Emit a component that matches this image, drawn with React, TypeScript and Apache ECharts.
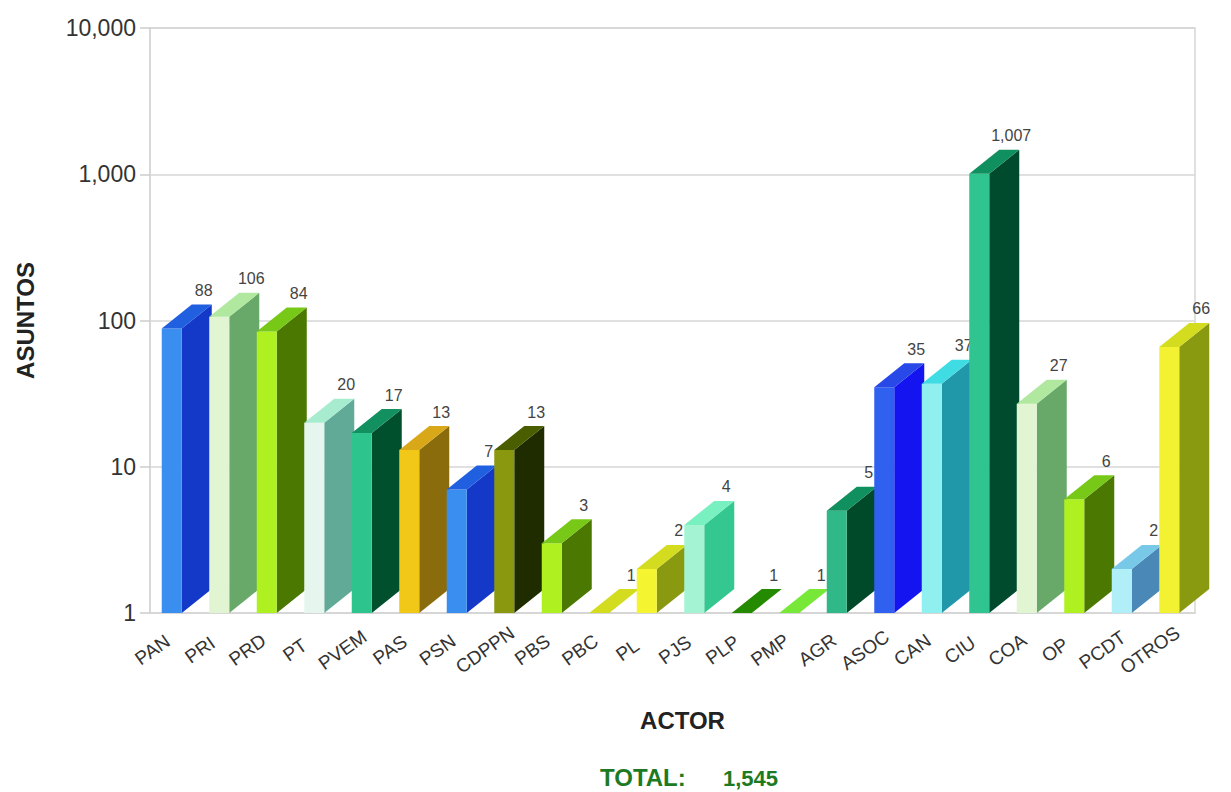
import React, { useEffect, useRef } from "react";
import * as echarts from "echarts";

const categories = ["PAN", "PRI", "PRD", "PT", "PVEM", "PAS", "PSN", "CDPPN", "PBS", "PBC", "PL", "PJS", "PLP", "PMP", "AGR", "ASOC", "CAN", "CIU", "COA", "OP", "PCDT", "OTROS"];
const asuntos = [88, 106, 84, 20, 17, 13, 7, 13, 3, 1, 2, 4, 1, 1, 5, 35, 37, 1007, 27, 6, 2, 66];

const frontColors = ["#3a8ef0", "#e2f5d2", "#aef020", "#e6f6ee", "#2ec48e", "#f2c818", "#3a8ef0", "#8a9810", "#aef020", "#f4f430", "#f4f430", "#a4f4d4", "#30a000", "#80f040", "#30b888", "#3060f0", "#90f0f0", "#30c490", "#e2f5d2", "#aef020", "#b0eef8", "#f2f232"];
const sideColors = ["#1438c8", "#68a868", "#4a7800", "#62aa98", "#00502e", "#8a6c0c", "#1438c8", "#1e2c00", "#4a7800", "#8a9a10", "#8a9a10", "#34c890", "#1a5a00", "#40a020", "#004a2a", "#1414f0", "#2098aa", "#004a2e", "#68a868", "#4a7800", "#4a88b8", "#8a9a10"];
const topColors = ["#1f5fe0", "#b0e8a0", "#78c818", "#a8ecd0", "#129060", "#d8a818", "#1f5fe0", "#4a5e00", "#78c818", "#d4dc20", "#d4dc20", "#78f0c0", "#248a00", "#78e838", "#10905e", "#2848e8", "#40dce4", "#10905e", "#b0e8a0", "#78c818", "#78c8e8", "#d4dc20"];

const FONT = "'Liberation Sans', Arial, Helvetica, sans-serif";
const fmt = (v: number) => Math.round(v).toLocaleString("en-US");
const total = asuntos.reduce((a, b) => a + b, 0);

export default function App() {
  const ref = useRef<HTMLDivElement>(null);
  useEffect(() => {
    if (!ref.current) return;
    const chart = echarts.init(ref.current, null, { renderer: "svg" });
    const FW = 20, DX = 30, DY = 24;
    chart.setOption({
      animation: false,
      backgroundColor: "#ffffff",
      textStyle: { fontFamily: FONT },
      grid: { left: 150, right: 36, top: 28, bottom: 179, show: true, borderColor: "#d6d6d6", borderWidth: 1.5, backgroundColor: "transparent" },
      xAxis: {
        type: "category",
        data: categories,
        boundaryGap: true,
        axisLine: { show: true, lineStyle: { color: "#d6d6d6", width: 1.5 } },
        axisTick: { show: false },
        axisLabel: {
          interval: 0,
          rotate: 35,
          align: "center",
          verticalAlign: "middle",
          padding: [0, 52, 0, 0],
          margin: 22,
          fontSize: 19,
          color: "#333",
          fontFamily: FONT,
        },
        name: "ACTOR",
        nameLocation: "middle",
        nameGap: 95,
        nameTextStyle: { fontSize: 24, fontWeight: "bold", color: "#222", fontFamily: FONT, padding: [0, 0, 0, 20] },
      },
      yAxis: {
        type: "log",
        logBase: 10,
        min: 1,
        max: 10000,
        splitNumber: 4,
        axisLine: { show: true, lineStyle: { color: "#d6d6d6", width: 1.5 } },
        axisTick: { show: true, length: 10, lineStyle: { color: "#cccccc", width: 1.5 } },
        splitLine: { show: true, lineStyle: { color: "#d6d6d6", width: 1.5 } },
        axisLabel: { fontSize: 23, color: "#333", margin: 14, fontFamily: FONT, formatter: (v: number) => fmt(v) },
        name: "ASUNTOS",
        nameLocation: "middle",
        nameRotate: 90,
        nameGap: 113,
        nameTextStyle: { fontSize: 24, fontWeight: "bold", color: "#222", fontFamily: FONT },
      },
      graphic: [
        { type: "text", left: 600, top: 765, style: { text: "TOTAL:", fontSize: 24, fontWeight: "bold", fill: "#1d7a22", fontFamily: FONT } },
        { type: "text", left: 723, top: 767, style: { text: fmt(total), fontSize: 22, fontWeight: "bold", fill: "#1d7a22", fontFamily: FONT } },
      ],
      series: [
        {
          type: "custom",
          clip: false,
          encode: { x: 0, y: 1 },
          data: asuntos.map((v, i) => [i, v]),
          renderItem: (params: any, api: any) => {
            const i = params.dataIndex;
            const v = api.value(1);
            const top = api.coord([api.value(0), v]);
            const base = api.coord([api.value(0), 1]);
            const x0 = top[0] - 12;
            const yT = top[1];
            const yB = base[1];
            return {
              type: "group",
              children: [
                {
                  type: "polygon",
                  shape: { points: [[x0 + FW, yB], [x0 + FW, yT], [x0 + FW + DX, yT - DY], [x0 + FW + DX, yB - DY]] },
                  style: { fill: sideColors[i] },
                },
                {
                  type: "rect",
                  shape: { x: x0, y: yT, width: FW, height: Math.max(0, yB - yT) },
                  style: { fill: frontColors[i] },
                },
                {
                  type: "polygon",
                  shape: { points: [[x0, yT], [x0 + FW, yT], [x0 + FW + DX, yT - DY], [x0 + DX, yT - DY]] },
                  style: { fill: topColors[i] },
                },
                {
                  type: "text",
                  style: {
                    text: fmt(v),
                    x: x0 + 42,
                    y: yT - DY - 14,
                    align: "center",
                    verticalAlign: "middle",
                    fontSize: 16,
                    fill: "#444",
                    fontFamily: FONT,
                  },
                },
              ],
            };
          },
        },
      ],
    });
    return () => chart.dispose();
  }, []);
  return <div ref={ref} style={{ position: "absolute", left: 0, top: 0, width: 1231, height: 792 }} />;
}
